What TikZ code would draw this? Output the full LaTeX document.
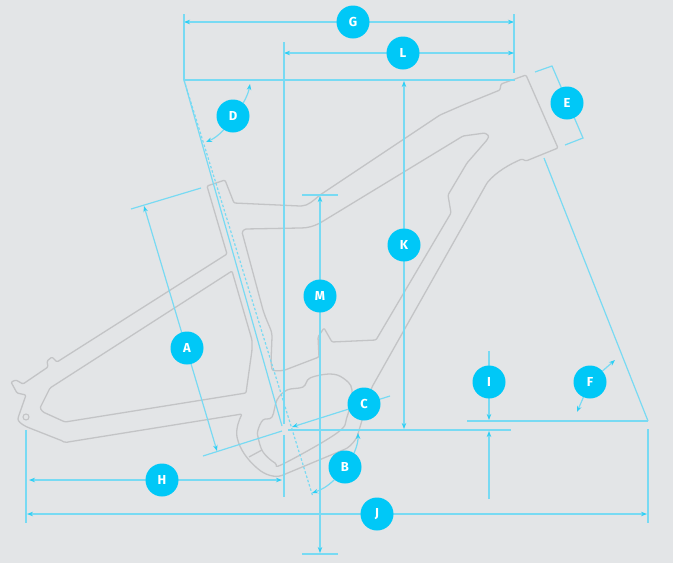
\documentclass[tikz,border=0pt]{standalone}
\usepackage{fontspec}
\setmainfont{Fira Sans}
\usetikzlibrary{arrows.meta,backgrounds}
\definecolor{bgc}{HTML}{E3E5E7}
\definecolor{framec}{HTML}{C3C4C6}
\definecolor{dimc}{HTML}{78DAF3}
\definecolor{badgec}{HTML}{00C8F7}
\definecolor{tipc}{HTML}{2DCFF5}
\tikzset{
  badge/.style={circle,fill=badgec,text=white,minimum size=33pt,inner sep=0pt,font=\fontsize{13}{13}\selectfont\bfseries},
  frameline/.style={draw=framec,line width=1.3pt,line join=round,rounded corners=1.2pt},
  dimline/.style={draw=dimc,line width=1.2pt},
  dimheavy/.style={draw=dimc,line width=1.6pt},
  arr/.style={-{Stealth[length=6pt,width=4.5pt,color=tipc]}},
  both/.style={{Stealth[length=6pt,width=4.5pt,color=tipc]}-{Stealth[length=6pt,width=4.5pt,color=tipc]}},
}
\begin{document}
\begin{tikzpicture}[x=1pt,y=-1pt]
\useasboundingbox (0,0) rectangle (673,563);
% badges
\node[badge] (G) at (353,22) {G};
\node[badge] (L) at (403,53) {L};
\node[badge] (D) at (233,116) {D};
\node[badge] (E) at (567,103) {E};
\node[badge] (K) at (404,245) {K};
\node[badge] (M) at (320,296) {M};
\node[badge] (A) at (187,348) {A};
\node[badge] (C) at (364,404) {C};
\node[badge] (I) at (489,382) {I};
\node[badge] (F) at (590,382) {F};
\node[badge] (B) at (345,467) {B};
\node[badge] (H) at (162,480) {H};
\node[badge] (J) at (377,514) {J};
% free ends
\coordinate (gl) at (184,22); \coordinate (gr) at (514,22);
\coordinate (ll) at (284,53); \coordinate (lr) at (514,53);
\coordinate (topl) at (184,80); \coordinate (topr) at (515,80);
\coordinate (kt) at (404,81); \coordinate (kb) at (404,429);
\coordinate (mt) at (320,196); \coordinate (mb) at (320,553);
\coordinate (at) at (144,206); \coordinate (ab) at (217,451);
\coordinate (hl) at (29,480); \coordinate (hr) at (282,480);
\coordinate (jl) at (27,514); \coordinate (jr) at (647,514);
\coordinate (it) at (489,351); \coordinate (ia) at (489,420);
\coordinate (ib) at (489,499); \coordinate (ic) at (489,431);
\coordinate (ft) at (648,421);
\begin{pgfonlayer}{background}
\fill[bgc] (0,0) rectangle (673,563);
% frame
\path[frameline]
  (207,186) -- (225,180) -- (234,203) -- (300,206)
  .. controls (308,206) and (314,200) .. (320,195)
  -- (440,115) -- (463,105) -- (500,90) -- (501,84) -- (526,75)
  -- (558,148) -- (526,161) -- (522,159)
  .. controls (510,164) and (496,172) .. (487,183)
  -- (372,387) -- (360,427) -- (357,437)
  .. controls (352,445) and (348,448) .. (343,450)
  -- (283,475)
  .. controls (275,478) and (265,475) .. (257,468)
  .. controls (248,460) and (240,450) .. (237,437)
  .. controls (236,428) and (239,420) .. (242,414)
  -- (68,442) .. controls (64,443) and (63,441) .. (60,440)
  -- (27,427) .. controls (21,424) and (18,421) .. (18,418)
  -- (26,395) -- (17,393) -- (11,382) -- (16,380) -- (23,384)
  -- (48,367) -- (47,361) -- (52,357) -- (57,362)
  -- (227,254) -- cycle;
\path[frameline]
  (232,271) -- (50,388) -- (40,408) -- (43,412) -- (65,422) -- (246,393)
  -- (252,350) -- (252,340) -- cycle;
\path[frameline]
  (245,229) -- (300,228) .. controls (308,228) and (314,226) .. (320,223)
  -- (463,136) -- (485,133) -- (489,136) -- (487,140) -- (467,163) -- (448,195)
  -- (451,213) -- (376,340) -- (332,342) -- (324,328) -- (318,337) -- (319,357)
  -- (285,370) .. controls (280,371) and (275,371) .. (272,370)
  -- (271,362) -- (272,337)
  .. controls (272,330) and (268,325) .. (263,310)
  -- (242,232) -- cycle;
\draw[draw=framec,line width=1.3pt] plot[smooth cycle,tension=0.6] coordinates {
  (258,430) (263,420) (272,417) (277,400) (287,390) (303,387) (310,378) (330,374)
  (343,378) (352,390) (347,417) (337,433) (283,464) (275,463) (263,452) (258,437)};
\draw[draw=framec,line width=1.3pt] (249,457) -- (262,450);
\draw[draw=framec,line width=1.1pt] (26,417) circle (3);
% dimension lines
\draw[dimline,both] (gl) -- (gr);
\draw[dimline] (184,14) -- (topl);
\draw[dimline] (514,14) -- (514,73);
\draw[dimline,both] (ll) -- (lr);
\draw[dimline] (284,42) -- (284,424);
\draw[dimline] (284,435) -- (284,497);
\draw[dimline] (topl) -- (topr);
\draw[dimline,both] (kt) -- (kb);
\draw[dimheavy,both] (mt) -- (mb);
\draw[dimline] (302,195) -- (338,195);
\draw[dimline] (302,554) -- (338,554);
\draw[dimline,both] (at) -- (ab);
\draw[dimline] (131,209) -- (201,188);
\draw[dimline] (203,456) -- (282,431);
\draw[dimline] (topl) -- (282,426);
\draw[dimline,dash pattern=on 2.5pt off 2pt] (topl) -- (313,497);
\coordinate (ce) at (292,427);
\draw[dimline,arr] (390,396) -- (ce);
\draw[dimheavy] (288,430) -- (511,430);
\draw[dimheavy] (467,421) -- (ft);
\draw[dimline] (544,158) -- (ft);
\draw[dimline] (648,429) -- (648,523);
\draw[dimline] (26,430) -- (26,523);
\draw[dimline,both] (hl) -- (hr);
\draw[dimline,both] (jl) -- (jr);
\draw[dimline,arr] (it) -- (ia);
\draw[dimline,arr] (ib) -- (ic);
% bracket E
\draw[dimline] (535,72) -- (552,66) -- (583,138) -- (565,145);
% curved double arrows
\coordinate (d1) at (250,84); \coordinate (d2) at (206,142);
\coordinate (f1) at (615,360); \coordinate (f2) at (577,412);
\coordinate (b1) at (358,433); \coordinate (b2) at (312,493);
\draw[dimline,arr] (D) to[bend right=10] (d1);
\draw[dimline,arr] (D) to[bend left=12] (d2);
\draw[dimline,arr] (F) -- (f1);
\draw[dimline,arr] (F) -- (f2);
\draw[dimline,arr] (B) to[bend right=12] (b1);
\draw[dimline,arr] (B) to[bend left=12] (b2);
\end{pgfonlayer}
\end{tikzpicture}
\end{document}
